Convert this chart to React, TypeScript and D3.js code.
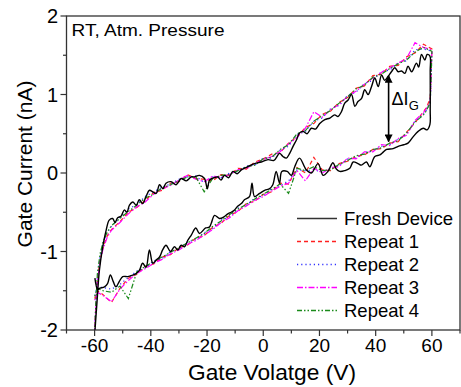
import React from "react";
import * as d3 from "d3";

// ---------- DATA ----------
const xTicks = [-60, -40, -20, 0, 20, 40, 60];
const xMinorTicks = [-70, -50, -30, -10, 10, 30, 50, 70];
const yTicks = [-2, -1, 0, 1, 2];
const yMinorTicks = [-1.5, -0.5, 0.5, 1.5];

// Fresh device (black) — sweep forward then reverse
const freshV = [
  -59.9, -59.1, -58.3, -57.1, -55.9, -54.8, -53.6, -52.7, -51.8, -50.6, -49.4, -48.5, -47.6, -46.4, -45.2, -44.1,
  -42.9, -41.7, -40.5, -39.3, -38.1, -36.9, -35.7, -34.6, -32.8, -31, -29.2, -27.4, -25.6, -24.5, -22.7, -20.9,
  -19.9, -19.1, -17.5, -16.2, -15.0, -13.8, -12.3, -10.8, -9.3, -7.8, -5.5, -3.1, -0.7, 1.7, 3.8, 5.8, 7.0, 8.2,
  9.4, 10.6, 11.8, 12.9, 14.1, 15.6, 17.1, 18.6, 20.1, 21.9, 23.7, 25.4, 26.6, 27.8, 29.0, 30.2, 31.4, 32.6, 33.7,
  35.0, 36.1, 37.3, 38.5, 39.7, 40.9, 42.1, 43.2, 44.4, 45.6, 46.8, 48.0, 49.2, 50.4, 51.5, 52.8, 54.5, 55.3, 56.3,
  57.5, 58.3, 59.3,
  59.4, 59.4, 59.3, 58.3, 56.9, 55.1, 53.3, 51.5, 50, 48, 46.2, 43.9, 42.5, 41.5, 39.7, 37.9, 36.7, 34.9, 33.7,
  32, 30.8, 29, 27.2, 26, 24.8, 23, 21.3, 19.5, 17.1, 15.3, 12.9, 11.2, 10.0, 8.5, 6.6, 5.8, 4.6, 3.4, 2.3, 0.5,
  -1.3, -3.1, -4.0, -4.9, -6.7, -7.8, -9, -10.2, -11.4, -12.6, -14, -15.6, -17.3, -18.5, -19.2, -20.5, -22.7, -24,
  -25.6, -26.9, -28, -29.2, -30.4, -31.6, -33, -34.6, -35.8, -36.9, -38.1, -39.3, -40.5, -41.7, -42.9, -44.1,
  -45.2, -46.4, -48.2, -50, -51.2, -52.4, -53.4, -54.4, -55.4, -56.5, -58.3, -58.9, -59.9,
];
const freshI = [
  -2.02, -1.62, -1.24, -0.94, -0.73, -0.6, -0.58, -0.63, -0.57, -0.55, -0.47, -0.5, -0.41, -0.37, -0.41, -0.34,
  -0.39, -0.3, -0.22, -0.24, -0.26, -0.15, -0.2, -0.13, -0.11, -0.15, -0.07, -0.1, -0.05, -0.05, -0.03, -0.07,
  -0.2, -0.09, -0.06, -0.05, -0.09, -0.03, -0.06, 0.02, -0.01, 0.04, 0.08, 0.12, 0.14, 0.17, 0.16, 0.25, 0.21, 0.19,
  0.25, 0.34, 0.42, 0.51, 0.53, 0.5, 0.57, 0.56, 0.63, 0.68, 0.7, 0.74, 0.72, 0.78, 0.89, 0.93, 1.0, 0.85, 0.91,
  0.95, 1.06, 1.0, 1.1, 1.21, 1.1, 1.25, 1.18, 1.23, 1.29, 1.34, 1.29, 1.3, 1.27, 1.36, 1.29, 1.4, 1.35, 1.51,
  1.44, 1.51, 1.49,
  1.3, 0.8, 0.62, 0.55, 0.57, 0.53, 0.46, 0.38, 0.36, 0.34, 0.31, 0.3, 0.26, 0.23, 0.21, 0.08, 0.14, 0.1, 0.12,
  0.14, 0.06, 0.03, 0.02, 0.05, 0.13, 0.02, -0.03, 0.12, 0.0, 0.04, 0.19, 0.08, -0.03, 0.02, 0.02, -0.13, 0.02, -0.15, -0.2, -0.22,
  -0.26, -0.3, -0.13, -0.3, -0.34, -0.39, -0.42, -0.47, -0.5, -0.52, -0.56, -0.58, -0.54, -0.64, -0.69, -0.7, -0.77, -0.7,
  -0.79, -0.86, -0.94, -0.92, -0.98, -0.94, -1.0, -0.92, -0.98, -1.07, -1.11, -1.15, -0.98, -1.2, -1.15, -1.24,
  -1.28, -1.3, -1.32, -1.32, -1.38, -1.45, -1.38, -1.3, -1.41, -1.45, -1.47, -1.49, -1.34,
];

// Repeats share the same voltage sweep
const fwdV = [-60, -59.5, -59, -58, -57, -55.5, -54, -51, -48, -45, -42, -39, -36, -33, -30, -27, -24, -21, -18, -15, -12, -9, -6, -3, 0, 3, 6, 9, 12, 15, 18, 21, 24, 27, 30, 33, 36, 39, 42, 45, 48, 51, 54, 57, 60];
const revV = [60, 59.7, 59.4, 58, 57, 54, 51, 48, 45, 42, 39, 36, 33, 30, 27, 24, 21, 18, 15, 12, 9, 6, 3, 0, -3, -6, -9, -12, -15, -18, -21, -24, -27, -30, -33, -36, -39, -42, -45, -48, -51, -54, -57, -59, -60];

const rep1Fwd = [-2.05, -1.65, -1.35, -1.1, -0.95, -0.8, -0.72, -0.62, -0.5, -0.44, -0.35, -0.25, -0.22, -0.13, -0.11, -0.02, -0.07, -0.08, -0.1, -0.02, -0.03, 0.06, 0.05, 0.14, 0.18, 0.24, 0.26, 0.38, 0.46, 0.58, 0.63, 0.75, 0.79, 0.9, 0.96, 1.08, 1.11, 1.24, 1.26, 1.36, 1.37, 1.48, 1.53, 1.64, 1.58];
const rep2Fwd = [-2.05, -1.6, -1.3, -1.05, -0.9, -0.76, -0.68, -0.57, -0.46, -0.4, -0.3, -0.24, -0.18, -0.14, -0.08, -0.05, -0.04, -0.12, -0.05, -0.06, 0.0, 0.02, 0.09, 0.1, 0.19, 0.19, 0.29, 0.34, 0.49, 0.53, 0.66, 0.7, 0.82, 0.86, 0.99, 1.03, 1.14, 1.18, 1.29, 1.31, 1.4, 1.43, 1.57, 1.58, 1.55];
const rep3Fwd = [-2.05, -1.66, -1.37, -1.12, -0.97, -0.82, -0.73, -0.63, -0.52, -0.43, -0.37, -0.27, -0.2, -0.16, -0.09, -0.03, -0.08, -0.11, -0.04, -0.05, -0.02, 0.04, 0.06, 0.12, 0.17, 0.21, 0.27, 0.37, 0.45, 0.57, 0.78, 0.71, 0.81, 0.87, 0.98, 1.04, 1.13, 1.21, 1.28, 1.34, 1.4, 1.46, 1.66, 1.6, 1.57];
const rep4Fwd = [-2.05, -1.6, -1.28, -1.02, -0.88, -0.75, -0.67, -0.58, -0.49, -0.41, -0.32, -0.27, -0.19, -0.15, -0.1, -0.05, -0.05, -0.24, -0.07, -0.03, -0.02, 0.03, 0.08, 0.1, 0.18, 0.2, 0.3, 0.36, 0.5, 0.54, 0.66, 0.73, 0.8, 0.89, 0.97, 1.07, 1.12, 1.22, 1.26, 1.33, 1.39, 1.44, 1.54, 1.6, 1.55];

const rep1Rev = [1.58, 1.25, 0.95, 0.83, 0.78, 0.64, 0.52, 0.4, 0.38, 0.31, 0.3, 0.23, 0.21, 0.15, 0.12, 0.03, 0.04, 0.2, 0.0, 0.07, -0.14, -0.13, -0.24, -0.27, -0.36, -0.39, -0.49, -0.54, -0.64, -0.69, -0.8, -0.83, -0.92, -0.95, -1.04, -1.07, -1.16, -1.19, -1.29, -1.34, -1.47, -1.65, -1.55, -1.5, -1.6];
const rep2Rev = [1.55, 1.15, 0.88, 0.8, 0.75, 0.66, 0.5, 0.43, 0.36, 0.34, 0.28, 0.26, 0.19, 0.18, 0.09, 0.06, 0.01, 0.04, 0.03, 0.04, -0.1, -0.16, -0.2, -0.29, -0.32, -0.41, -0.45, -0.56, -0.6, -0.71, -0.76, -0.85, -0.88, -0.97, -1.0, -1.09, -1.12, -1.21, -1.25, -1.33, -1.42, -1.48, -1.46, -1.45, -1.55];
const rep3Rev = [1.57, 1.22, 0.92, 0.82, 0.77, 0.67, 0.48, 0.44, 0.35, 0.36, 0.27, 0.27, 0.18, 0.19, 0.08, 0.07, 0.0, 0.06, -0.1, 0.03, -0.13, -0.17, -0.23, -0.3, -0.35, -0.42, -0.48, -0.57, -0.63, -0.72, -0.79, -0.86, -0.91, -0.98, -1.03, -1.1, -1.15, -1.22, -1.28, -1.37, -1.48, -1.64, -1.56, -1.52, -1.62];
const rep4Rev = [1.55, 1.18, 0.9, 0.79, 0.74, 0.65, 0.51, 0.41, 0.38, 0.32, 0.3, 0.24, 0.22, 0.16, 0.11, 0.04, 0.03, 0.08, 0.03, 0.06, -0.26, -0.14, -0.21, -0.27, -0.33, -0.4, -0.46, -0.53, -0.61, -0.68, -0.77, -0.83, -0.89, -0.95, -1.01, -1.07, -1.13, -1.19, -1.26, -1.6, -1.44, -1.52, -1.5, -1.47, -1.57];

const seriesNames = ["Fresh Device", "Repeat 1", "Repeat 2", "Repeat 3", "Repeat 4"];
const seriesColors = ["#000000", "#ff2020", "#3030ff", "#ff00ff", "#1a8a1a"];
const seriesDash = ["", "4,3", "1.2,3", "6,2,1.5,2", "5,2,1.5,2,1.5,2"];

// ΔI_G annotation (data units)
const arrowV = 44.6;
const arrowTop = 1.24;
const arrowBottom = 0.4;

// ---------- LAYOUT ----------
const W = 461;
const H = 387;
const L = 66.5;
const R = 460;
const T = 16;
const B = 330;

export default function App() {
  const x = d3.scaleLinear().domain([-70, 70]).range([L, R]);
  const y = d3.scaleLinear().domain([-2, 2]).range([B, T]);

  const freshPts: [number, number][] = freshV.map((v, i) => [v, freshI[i]]);
  const repFwd = [rep1Fwd, rep2Fwd, rep3Fwd, rep4Fwd];
  const repRev = [rep1Rev, rep2Rev, rep3Rev, rep4Rev];
  const repPts: [number, number][][] = repFwd.map((f, k) => [
    ...fwdV.map((v, i) => [v, f[i]] as [number, number]),
    ...revV.map((v, i) => [v, repRev[k][i]] as [number, number]),
  ]);

  const smooth = d3
    .line<[number, number]>()
    .x((d) => x(d[0]))
    .y((d) => y(d[1]))
    .curve(d3.curveCatmullRom.alpha(0.5));
  const straight = d3
    .line<[number, number]>()
    .x((d) => x(d[0]))
    .y((d) => y(d[1]));

  const font = "Arial, 'Liberation Sans', sans-serif";
  const axisColor = "#333";

  return (
    <svg width={W} height={H} style={{ position: "absolute", left: 0, top: 0 }} fontFamily={font}>
      <rect x={0} y={0} width={W} height={H} fill="#fff" />
      <defs>
        <clipPath id="plot">
          <rect x={L} y={T} width={R - L} height={B - T} />
        </clipPath>
      </defs>

      {/* data */}
      <g clipPath="url(#plot)">
        {repPts.map((pts, k) => (
          <path
            key={k}
            d={straight(pts) || ""}
            fill="none"
            stroke={seriesColors[k + 1]}
            strokeWidth={1.2}
            strokeDasharray={seriesDash[k + 1]}
          />
        ))}
        <path d={smooth(freshPts) || ""} fill="none" stroke="#000" strokeWidth={1.4} />
      </g>

      {/* frame */}
      <rect x={L} y={T} width={R - L} height={B - T} fill="none" stroke={axisColor} strokeWidth={1.3} />

      {/* x ticks */}
      {xTicks.map((t) => (
        <g key={"xt" + t}>
          <line x1={x(t)} x2={x(t)} y1={B} y2={B + 6} stroke={axisColor} strokeWidth={1.2} />
          <text x={x(t)} y={352} textAnchor="middle" fontSize={19}>
            {t}
          </text>
        </g>
      ))}
      {xMinorTicks.map((t) => (
        <line key={"xm" + t} x1={x(t)} x2={x(t)} y1={B} y2={B + 3.5} stroke={axisColor} strokeWidth={1.2} />
      ))}

      {/* y ticks */}
      {yTicks.map((t) => (
        <g key={"yt" + t}>
          <line x1={L - 6} x2={L} y1={y(t)} y2={y(t)} stroke={axisColor} strokeWidth={1.2} />
          <text x={58} y={y(t) + 7} textAnchor="end" fontSize={20}>
            {t}
          </text>
        </g>
      ))}
      {yMinorTicks.map((t) => (
        <line key={"ym" + t} x1={L - 3.5} x2={L} y1={y(t)} y2={y(t)} stroke={axisColor} strokeWidth={1.2} />
      ))}

      {/* axis titles */}
      <text x={188} y={380} fontSize={21.5} textLength={168} lengthAdjust="spacingAndGlyphs">
        Gate Volatge (V)
      </text>
      <text transform={`translate(32,164) rotate(-90)`} textAnchor="middle" fontSize={21}>
        Gate Current (nA)
      </text>

      {/* condition label */}
      <text x={71.5} y={36} fontSize={17} textLength={153} lengthAdjust="spacingAndGlyphs">
        RT, Atm. Pressure
      </text>

      {/* ΔI_G annotation */}
      <defs>
        <marker id="ah" viewBox="0 0 10 10" refX={9} refY={5} markerWidth={8} markerHeight={8} markerUnits="userSpaceOnUse" orient="auto-start-reverse">
          <path d="M0,0 L10,5 L0,10 z" fill="#000" />
        </marker>
      </defs>
      <line
        x1={x(arrowV)}
        x2={x(arrowV)}
        y1={y(arrowTop)}
        y2={y(arrowBottom)}
        stroke="#000"
        strokeWidth={1.6}
        markerStart="url(#ah)"
        markerEnd="url(#ah)"
      />
      <text x={x(arrowV) + 3} y={105} fontSize={18}>
        ΔI
        <tspan fontSize={13} dy={5}>
          G
        </tspan>
      </text>

      {/* legend */}
      {seriesNames.map((name, i) => {
        const cy = 218.5 + i * 23;
        return (
          <g key={name}>
            <line
              x1={297}
              x2={337}
              y1={cy}
              y2={cy}
              stroke={i === 0 ? "#333" : seriesColors[i]}
              strokeWidth={1.6}
              strokeDasharray={seriesDash[i]}
            />
            <text x={344} y={cy + 6.5} fontSize={18.5}>
              {name}
            </text>
          </g>
        );
      })}
    </svg>
  );
}
